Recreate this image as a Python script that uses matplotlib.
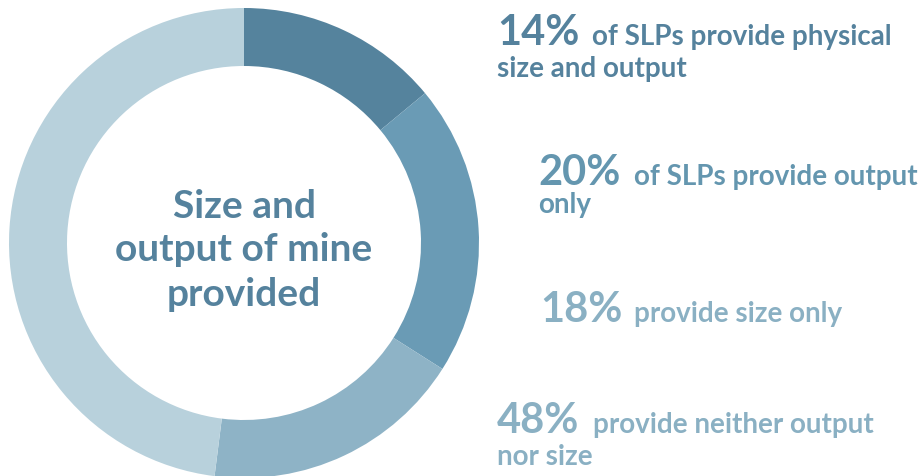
import matplotlib.pyplot as plt

# share of SLPs by what they report about the mine
shares = [14, 20, 18, 48]
ring_colors = ['#55839d', '#6a9bb5', '#8eb3c6', '#b8d1dc']
percent_labels = ['14%', '20%', '18%', '48%']
first_lines = ['of SLPs provide physical', 'of SLPs provide output',
               'provide size only', 'provide neither output']
second_lines = ['size and output', 'only', '', 'nor size']
text_colors = ['#55829d', '#6496af', '#8ab0c3', '#8ab0c3']
center_lines = ['Size and', 'output of mine', 'provided']

W, H = 919, 477
fig = plt.figure(figsize=(W / 100, H / 100), dpi=100)
ax = fig.add_axes([0, 0, 1, 1])

cx, cy, r = 244, 233, 235
ax.pie(shares, colors=ring_colors, startangle=90, counterclock=False,
       center=(cx, cy), radius=r,
       wedgeprops=dict(width=58, edgecolor='none'))
ax.set_xlim(0, W)
ax.set_ylim(0, H)
ax.set_aspect('equal')
ax.axis('off')

font = 'Lato'

# label blocks on the right: (x of number, x of text, baseline, second-line baseline)
blocks = [
    (497, 592, 432, 400),
    (538, 634, 292, 264),
    (540, 634, 155, None),
    (497, 593, 44, 12),
]
for i, (xn, xt, yb, y2) in enumerate(blocks):
    c = text_colors[i]
    ax.text(xn, yb, percent_labels[i], fontsize=30, fontweight='bold',
            family=font, color=c, va='baseline', ha='left')
    ax.text(xt, yb, first_lines[i], fontsize=20, fontweight='bold',
            family=font, color=c, va='baseline', ha='left')
    if y2 is not None:
        ax.text(xn, y2, second_lines[i], fontsize=20, fontweight='bold',
                family=font, color=c, va='baseline', ha='left')

# title in the hole of the ring
for line, yb in zip(center_lines, [259, 216, 171]):
    ax.text(cx, yb, line, fontsize=28, fontweight='bold', family=font,
            color='#55829d', va='baseline', ha='center')

fig.savefig('out.png', dpi=100)
